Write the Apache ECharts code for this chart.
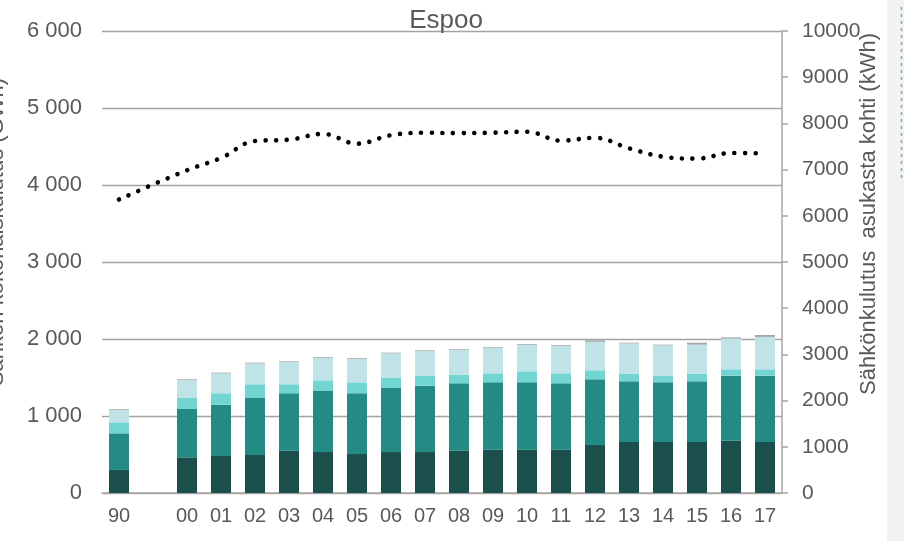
<!DOCTYPE html>
<html>
<head>
<meta charset="utf-8">
<script src="https://cdn.jsdelivr.net/npm/echarts@6/dist/echarts.min.js"></script>
<style>
  html, body { margin: 0; padding: 0; background: #ffffff; }
  #chart { width: 904px; height: 541px; }
</style>
</head>
<body>
<div id="chart"></div>
<script>
// Years on the category axis; the empty slot separates 1990 from 2000s
const years = ['90', '', '00', '01', '02', '03', '04', '05', '06', '07', '08', '09', '10', '11', '12', '13', '14', '15', '16', '17'];

// Electricity consumption by sector (GWh), stacked
const sector1 = [300, null, 463, 481, 494, 550, 532, 506, 532, 532, 550, 563, 563, 563, 623, 662, 662, 662, 680, 662];
const sector2 = [475, null, 628, 666, 740, 745, 793, 789, 832, 862, 874, 874, 874, 861, 853, 788, 775, 788, 844, 862];
const sector3 = [143, null, 143, 148, 178, 117, 138, 142, 130, 130, 113, 117, 143, 130, 117, 100, 87, 100, 82, 82];
const sector4 = [160, null, 233, 258, 270, 288, 293, 306, 318, 319, 319, 328, 345, 358, 370, 392, 392, 377, 401, 421];
const sector5 = [10, null, 10, 10, 10, 10, 10, 10, 10, 10, 10, 10, 10, 10, 20, 10, 10, 25, 15, 25];

// Consumption per inhabitant (kWh), right axis
const perCapita = [6353, null, 6987, 7251, 7619, 7647, 7773, 7561, 7745, 7797, 7790, 7799, 7820, 7626, 7688, 7461, 7279, 7238, 7359, 7353];

// Axis ranges
const leftMax = 6000, leftStep = 1000;
const rightMax = 10000, rightStep = 1000;

const textColor = '#595959';
const font = 'Liberation Sans, Arial, sans-serif';

function barSeries(name, data, color) {
  return {
    name: name, type: 'bar', stack: 'total', data: data,
    barWidth: 20, yAxisIndex: 0,
    itemStyle: { color: color }, silent: true
  };
}

const chart = echarts.init(document.getElementById('chart'), null, { renderer: 'canvas' });
chart.setOption({
  animation: false,
  backgroundColor: '#ffffff',
  title: {
    text: 'Espoo', left: 441, top: 3, textAlign: 'center',
    textStyle: { color: textColor, fontFamily: font, fontSize: 26, fontWeight: 'normal' }
  },
  grid: { left: 102, right: 122, top: 31, bottom: 48, containLabel: false },
  xAxis: {
    type: 'category', data: years,
    axisLine: { show: true, lineStyle: { color: '#a6a6a6', width: 1.5 } },
    axisTick: { show: false },
    axisLabel: { color: textColor, fontFamily: font, fontSize: 20, margin: 13, interval: 0 }
  },
  yAxis: [
    {
      type: 'value', min: 0, max: leftMax, interval: leftStep, position: 'left',
      axisLine: { show: false }, axisTick: { show: false },
      splitLine: { show: true, lineStyle: { color: '#a3a3a3', width: 1.4 } },
      axisLabel: {
        color: textColor, fontFamily: font, fontSize: 22, margin: 20,
        formatter: function (v) { return v >= 1000 ? Math.floor(v / 1000) + ' ' + String(v % 1000).padStart(3, '0') : String(v); }
      }
    },
    {
      type: 'value', min: 0, max: rightMax, interval: rightStep, position: 'right',
      axisLine: { show: true, lineStyle: { color: '#a6a6a6', width: 1.5 } },
      axisTick: { show: true, inside: false, length: 6, lineStyle: { color: '#a6a6a6', width: 1.5 } },
      splitLine: { show: false },
      axisLabel: {
        color: textColor, fontFamily: font, fontSize: 21, margin: 20,
        formatter: function (v) { return String(v); }
      }
    }
  ],
  series: [
    barSeries('sector1', sector1, '#1b4f4b'),
    barSeries('sector2', sector2, '#238b84'),
    barSeries('sector3', sector3, '#72d5d2'),
    barSeries('sector4', sector4, '#bfe3e6'),
    barSeries('sector5', sector5, '#a6a6a6'),
    {
      name: 'perCapita', type: 'line', yAxisIndex: 1, data: perCapita,
      connectNulls: true, smooth: 0.4, symbol: 'none', silent: true,
      lineStyle: { color: '#000000', width: 4.6, type: [0.01, 10.6], cap: 'round' }
    }
  ],
  graphic: [
    {
      type: 'rect', left: 887, top: 0, silent: true,
      shape: { width: 17, height: 541 }, style: { fill: '#f2f2f2' }
    },
    {
      type: 'line', silent: true,
      shape: { x1: 901.5, y1: 7, x2: 901.5, y2: 178 },
      style: { stroke: '#5cbdb1', lineWidth: 1.5, lineDash: [3, 4] }
    },
    {
      type: 'text', x: -3, y: 232, rotation: Math.PI / 2, silent: true,
      style: {
        text: 'Sähkön kokonaiskulutus (GWh)', fill: textColor,
        font: '22px ' + font, align: 'center', verticalAlign: 'middle'
      }
    },
    {
      type: 'text', x: 869, y: 214, rotation: Math.PI / 2, silent: true,
      style: {
        text: 'Sähkönkulutus  asukasta kohti (kWh)', fill: textColor,
        font: '22px ' + font, align: 'center', verticalAlign: 'middle'
      }
    }
  ]
});
</script>
</body>
</html>
